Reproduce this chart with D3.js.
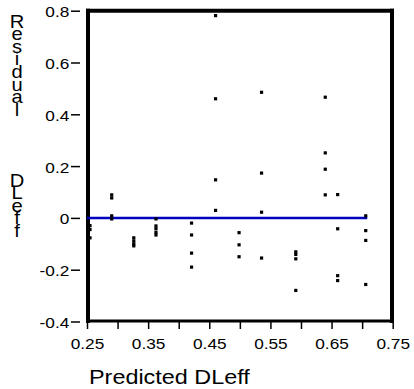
<!DOCTYPE html>
<html><head><meta charset="utf-8">
<script src="https://cdn.jsdelivr.net/npm/d3@7"></script>
<style>html,body{margin:0;padding:0;background:#fff;}svg{display:block;font-family:"Liberation Sans",Arial,sans-serif;}</style>
</head><body>
<svg id="c" width="414" height="389"></svg>
<script>
const predicted = [0.2549,0.2549,0.2549, 0.2904,0.2904,0.2904,0.2904, 0.3265,0.3265,0.3265,0.3265,
  0.3628,0.3628,0.3628,0.3628,0.3628, 0.421,0.421,0.421,0.421, 0.4603,0.4603,0.4603,0.4603,
  0.4987,0.4987,0.4987, 0.5355,0.5355,0.5355,0.5355, 0.5915,0.5915,0.5915,0.5915,
  0.6397,0.6397,0.6397,0.6397, 0.660,0.660,0.660,0.660, 0.7059,0.7059,0.7059,0.7059];
const residual = [-0.03,-0.045,-0.077, 0.089,0.077,0.008,-0.004, -0.077,-0.089,-0.100,-0.108,
  -0.004,-0.031,-0.042,-0.056,-0.066, -0.020,-0.066,-0.136,-0.190, 0.781,0.460,0.147,0.029,
  -0.057,-0.104,-0.150, 0.485,0.173,0.022,-0.155, -0.131,-0.141,-0.158,-0.280,
  0.466,0.251,0.188,0.089, 0.090,-0.042,-0.223,-0.242, 0.008,-0.049,-0.087,-0.257];
const xTicks = [0.25,0.30,0.35,0.40,0.45,0.50,0.55,0.60,0.65,0.70,0.75];
const xTickLabels = ["0.25","","0.35","","0.45","","0.55","","0.65","","0.75"];
const yTicks = [0.8,0.6,0.4,0.2,0,-0.2,-0.4];
const yTickLabels = ["0.8","0.6","0.4","0.2","0","-0.2","-0.4"];
const xTitle = "Predicted DLeff";
const yTitleWords = ["Residual","DLeff"];

const svg = d3.select("#c");
const x = d3.scaleLinear().domain([0.25,0.75]).range([87,392.7]);
const y = d3.scaleLinear().domain([-0.4,0.8]).range([321.5,10.7]);

// frame
const fr = svg.append("g").attr("stroke","#000");
fr.append("line").attr("x1",88).attr("x2",88).attr("y1",8.7).attr("y2",323).attr("stroke-width",4);
fr.append("line").attr("x1",86).attr("x2",394).attr("y1",10.7).attr("y2",10.7).attr("stroke-width",4);
fr.append("line").attr("x1",392).attr("x2",392).attr("y1",8.7).attr("y2",323).attr("stroke-width",4);
fr.append("line").attr("x1",86).attr("x2",394).attr("y1",321).attr("y2",321).attr("stroke-width",3);

// y axis
const ya = svg.append("g").attr("transform","translate(80,0)")
  .call(d3.axisLeft(y).tickValues(yTicks).tickSize(9).tickFormat((d,i)=>yTickLabels[i]));
ya.select(".domain").remove();
ya.selectAll(".tick line").attr("stroke","#000").attr("stroke-width",1.5);
ya.selectAll(".tick text").attr("x",null).attr("dy",null)
  .attr("transform","translate(-10.7,6) scale(1.15,1)")
  .attr("text-anchor","end").attr("font-size",15).attr("fill","#000")
  .attr("font-family","'Liberation Sans',Arial,sans-serif");

// x axis
const xa = svg.append("g").attr("transform","translate(0,322)")
  .call(d3.axisBottom(x).tickValues(xTicks).tickSize(7).tickFormat((d,i)=>xTickLabels[i]));
xa.select(".domain").remove();
xa.selectAll(".tick line").attr("stroke","#000").attr("stroke-width",1.5);
xa.selectAll(".tick text").attr("y",null).attr("dy",null)
  .attr("transform","translate(0,26.5) scale(1.15,1)")
  .attr("text-anchor","middle").attr("font-size",15).attr("fill","#000")
  .attr("font-family","'Liberation Sans',Arial,sans-serif");

// zero line
const ext = d3.extent(predicted);
svg.append("line").attr("x1",x(0.25)).attr("x2",x(ext[1])+1.5)
  .attr("y1",y(0)).attr("y2",y(0)).attr("stroke","#0000c0").attr("stroke-width",2.5);

// points
svg.append("g").selectAll("rect").data(predicted).join("rect")
  .attr("x",(d)=>x(d)-1.6).attr("y",(d,i)=>y(residual[i])-1.6)
  .attr("width",3.2).attr("height",3.2).attr("fill","#000");

// titles
svg.append("text").attr("transform","translate(89,383.5) scale(1.2,1)")
  .attr("font-size",19.5).attr("fill","#000").text(xTitle);

const step = 12.6;
const starts = [11.7, 170.5];
yTitleWords.forEach((w,k)=>{
  const t = svg.append("text").attr("transform","translate(17,0) scale(1.12,1)")
    .attr("x",0).attr("y",starts[k])
    .style("writing-mode","vertical-rl").style("text-orientation","upright")
    .attr("font-size",18).attr("fill","#000").text(w);
  const a = t.node().getComputedTextLength()/w.length;
  t.style("letter-spacing",(step - a)+"px");
});
</script>
</body></html>
